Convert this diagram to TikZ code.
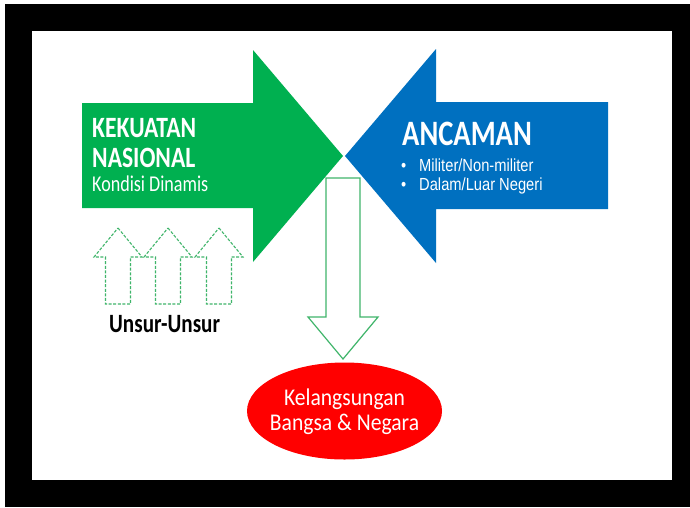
\documentclass[tikz,border=0pt]{standalone}
\usepackage{fontspec}
\setmainfont{Carlito}
\newfontfamily\condfont[FakeStretch=0.8]{Carlito}
\newfontfamily\ovalfont[FakeStretch=0.9]{Carlito}
\newfontfamily\narrowfont[FakeStretch=0.84]{Liberation Sans}
\usetikzlibrary{calc,shapes.geometric}
\definecolor{kgreen}{HTML}{00B050}
\definecolor{kblue}{HTML}{0070C0}
\definecolor{kred}{HTML}{FF0000}
\definecolor{klight}{HTML}{3FB56A}
\tikzset{
  bigtxt/.style={anchor=base west, inner sep=0pt, text=white, font=\condfont\bfseries\fontsize{29.5}{30}\selectfont},
  subtxt/.style={anchor=base west, inner sep=0pt, text=white, font=\narrowfont\fontsize{17.5}{18}\selectfont},
  ovaltxt/.style={anchor=base, inner sep=0pt, text=white, font=\ovalfont\fontsize{24}{25}\selectfont},
  unsur/.style={draw=klight, line width=1.1pt, dash pattern=on 3pt off 1.6pt, fill=white},
}
\def\unsurarrow(#1){\draw[unsur] (#1,228) -- (#1+24,257) -- (#1+12.5,257) -- (#1+12.5,304) -- (#1-12.5,304) -- (#1-12.5,257) -- (#1-24,257) -- cycle;}

\begin{document}
\begin{tikzpicture}[x=1pt,y=-1pt]
  %%%%% FRAME %%%%%
  \useasboundingbox (0,0) rectangle (690,507);
  \fill[white] (0,0) rectangle (690,507);
  \fill[black] (5,4) rectangle (690,507);
  \fill[white] (32,31) rectangle (672,480);

  %%%%% DOWN ARROW %%%%%
  \draw[klight, line width=1.2pt, fill=white] (326,178) -- (360,178) -- (360,317) -- (378,317)
    -- (343,359) -- (308,317) -- (326,317) -- cycle;

  %%%%% BIG ARROWS %%%%%
  \fill[kgreen] (82,103) -- (253,103) -- (253,50) -- (343,156) -- (253,262) -- (253,208) -- (82,208) -- cycle;
  \fill[kblue] (608,102) -- (436,102) -- (436,49) -- (345,156) -- (436,263) -- (436,209) -- (608,209) -- cycle;

  \node[bigtxt] (kekuatan) at (92,137) {KEKUATAN};
  \node[bigtxt] (nasional) at (92,167) {NASIONAL};
  \node[anchor=base west, inner sep=0pt, text=white, font=\condfont\fontsize{22.6}{23}\selectfont] (kondisi) at (92,191) {Kondisi Dinamis};

  \node[bigtxt, font=\condfont\bfseries\fontsize{35.7}{36}\selectfont] (ancaman) at (402,145) {ANCAMAN};
  \node[subtxt] (dot1) at (401,171) {\textbullet};
  \node[subtxt] (militer) at (419,171) {Militer/Non-militer};
  \node[subtxt] (dot2) at (401,190) {\textbullet};
  \node[subtxt] (dalam) at (419,190) {Dalam/Luar Negeri};

  %%%%% UNSUR-UNSUR %%%%%
  \foreach \cx in {118,168,219} {\unsurarrow(\cx)}
  \node[anchor=base west, inner sep=0pt, font=\condfont\bfseries\fontsize{26.4}{27}\selectfont] (unsur) at (109,332) {Unsur-Unsur};

  %%%%% KELANGSUNGAN %%%%%
  \node[ellipse, fill=kred, minimum width=195pt, minimum height=97pt, inner sep=0pt] (hasil) at (344.5,411) {};
  \node[ovaltxt] (kelang) at (344.5,405) {Kelangsungan};
  \node[ovaltxt] (bangsa) at (344.5,430) {Bangsa \& Negara};
\end{tikzpicture}
\end{document}
